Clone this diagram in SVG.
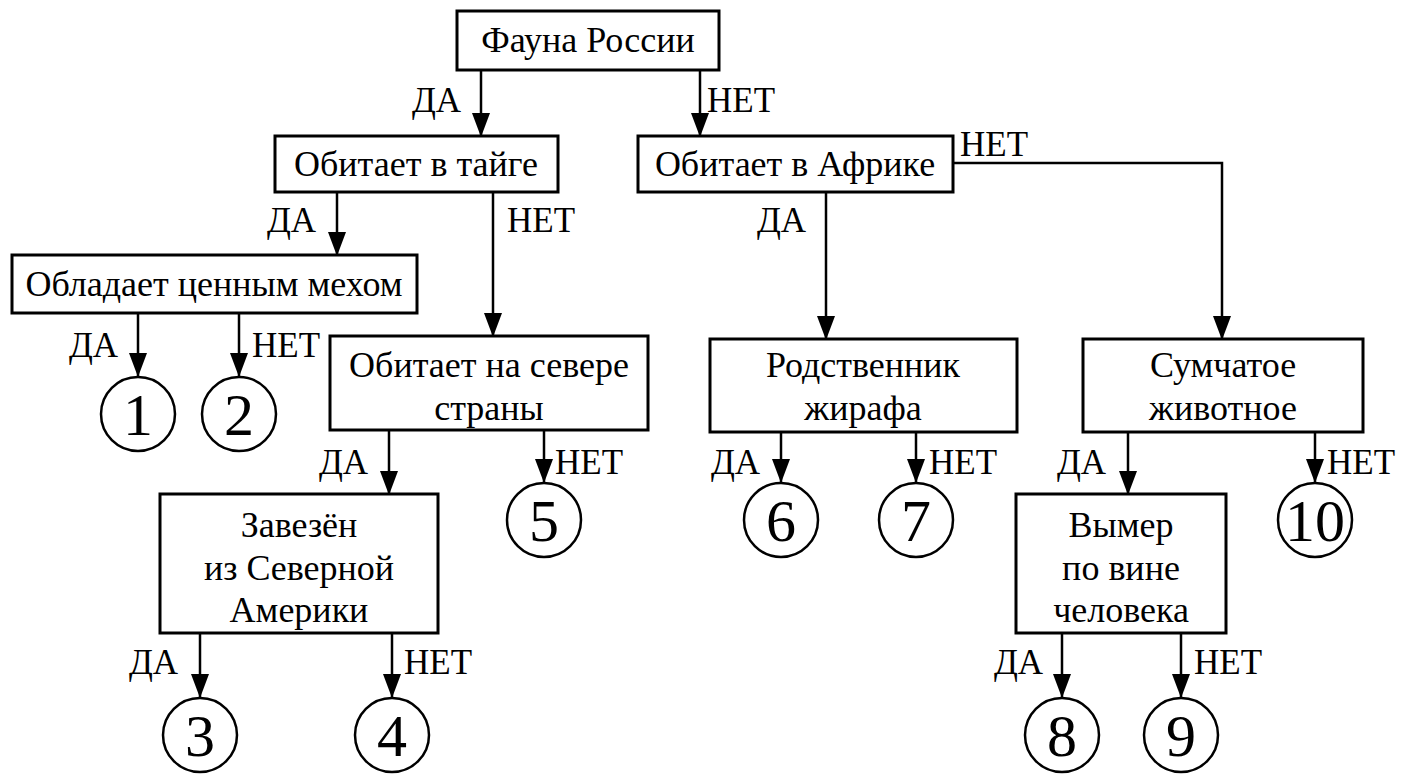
<svg xmlns="http://www.w3.org/2000/svg" width="1405" height="777" viewBox="0 0 1405 777">
<style>
.box{fill:#fff;stroke:#000;stroke-width:3}
.c{fill:#fff;stroke:#000;stroke-width:2.5}
.t{font-family:"Liberation Serif","Times New Roman",serif;font-size:36px;fill:#000;text-anchor:middle}
.l{font-family:"Liberation Serif","Times New Roman",serif;font-size:35px;fill:#000}
.n{font-family:"Liberation Serif","Times New Roman",serif;font-size:60px;fill:#000;text-anchor:middle}
.e{fill:none;stroke:#000;stroke-width:2.5;marker-end:url(#ah)}
</style>
<defs>
<marker id="ah" markerUnits="userSpaceOnUse" markerWidth="24" markerHeight="20" refX="23" refY="9" orient="auto" viewBox="0 0 24 18">
<path d="M0,0 L24,9 L0,18 z" fill="#000"/>
</marker>
</defs>
<rect width="1405" height="777" fill="#fff"/>
<g id="connectors">
<path class="e" d="M481,70 V136"/>
<path class="e" d="M700,70 V136"/>
<path class="e" d="M337,192 V255"/>
<path class="e" d="M493,192 V336"/>
<path class="e" d="M138,313 V376"/>
<path class="e" d="M239,313 V376"/>
<path class="e" d="M389,430 V494"/>
<path class="e" d="M544,430 V482"/>
<path class="e" d="M200,633 V697"/>
<path class="e" d="M392,633 V697"/>
<path class="e" d="M826,192 V339"/>
<path class="e" d="M953,163 H1222 V339"/>
<path class="e" d="M781,432 V482"/>
<path class="e" d="M916,432 V482"/>
<path class="e" d="M1128,432 V494"/>
<path class="e" d="M1315,432 V482"/>
<path class="e" d="M1062,633 V697"/>
<path class="e" d="M1181,633 V697"/>
<text class="l" x="412" y="112">ДА</text>
<text class="l" x="707" y="112">НЕТ</text>
<text class="l" x="960" y="156">НЕТ</text>
<text class="l" x="267" y="232">ДА</text>
<text class="l" x="507" y="232">НЕТ</text>
<text class="l" x="757" y="232">ДА</text>
<text class="l" x="69" y="357">ДА</text>
<text class="l" x="252" y="357">НЕТ</text>
<text class="l" x="319" y="474">ДА</text>
<text class="l" x="555" y="474">НЕТ</text>
<text class="l" x="711" y="474">ДА</text>
<text class="l" x="929" y="474">НЕТ</text>
<text class="l" x="1057" y="474">ДА</text>
<text class="l" x="1327" y="474">НЕТ</text>
<text class="l" x="129" y="674">ДА</text>
<text class="l" x="404" y="674">НЕТ</text>
<text class="l" x="994" y="674">ДА</text>
<text class="l" x="1194" y="674">НЕТ</text>
</g>
<g id="n-root"><rect class="box" x="457" y="11" width="262" height="59"/><text class="t" x="588" y="52">Фауна России</text></g>
<g id="n-taiga"><rect class="box" x="275" y="136" width="283" height="56"/><text class="t" x="416" y="176">Обитает в тайге</text></g>
<g id="n-africa"><rect class="box" x="638" y="136" width="315" height="56"/><text class="t" x="795" y="176">Обитает в Африке</text></g>
<g id="n-fur"><rect class="box" x="12" y="255" width="405" height="58"/><text class="t" x="214" y="296">Обладает ценным мехом</text></g>
<g id="n-north"><rect class="box" x="330" y="336" width="318" height="94"/><text class="t" x="489" y="377">Обитает на севере</text><text class="t" x="489" y="420">страны</text></g>
<g id="n-giraffe"><rect class="box" x="710" y="339" width="307" height="93"/><text class="t" x="863" y="377">Родственник</text><text class="t" x="863" y="420">жирафа</text></g>
<g id="n-marsupial"><rect class="box" x="1083" y="339" width="280" height="93"/><text class="t" x="1223" y="377">Сумчатое</text><text class="t" x="1223" y="420">животное</text></g>
<g id="n-america"><rect class="box" x="160" y="494" width="278" height="139"/><text class="t" x="299" y="537">Завезён</text><text class="t" x="299" y="580">из Северной</text><text class="t" x="299" y="622">Америки</text></g>
<g id="n-extinct"><rect class="box" x="1016" y="494" width="210" height="139"/><text class="t" x="1121" y="537">Вымер</text><text class="t" x="1121" y="580">по вине</text><text class="t" x="1121" y="622">человека</text></g>
<g id="c1"><circle class="c" cx="138" cy="414" r="37"/><text class="n" x="138" y="435">1</text></g>
<g id="c2"><circle class="c" cx="239" cy="414" r="37"/><text class="n" x="239" y="435">2</text></g>
<g id="c5"><circle class="c" cx="544" cy="520" r="37"/><text class="n" x="544" y="541">5</text></g>
<g id="c6"><circle class="c" cx="781" cy="520" r="37"/><text class="n" x="781" y="541">6</text></g>
<g id="c7"><circle class="c" cx="916" cy="520" r="37"/><text class="n" x="916" y="541">7</text></g>
<g id="c10"><circle class="c" cx="1315" cy="520" r="37"/><text class="n" x="1315" y="541">10</text></g>
<g id="c3"><circle class="c" cx="200" cy="735" r="37"/><text class="n" x="200" y="756">3</text></g>
<g id="c4"><circle class="c" cx="392" cy="735" r="37"/><text class="n" x="392" y="756">4</text></g>
<g id="c8"><circle class="c" cx="1062" cy="735" r="37"/><text class="n" x="1062" y="756">8</text></g>
<g id="c9"><circle class="c" cx="1181" cy="735" r="37"/><text class="n" x="1181" y="756">9</text></g>
</svg>
